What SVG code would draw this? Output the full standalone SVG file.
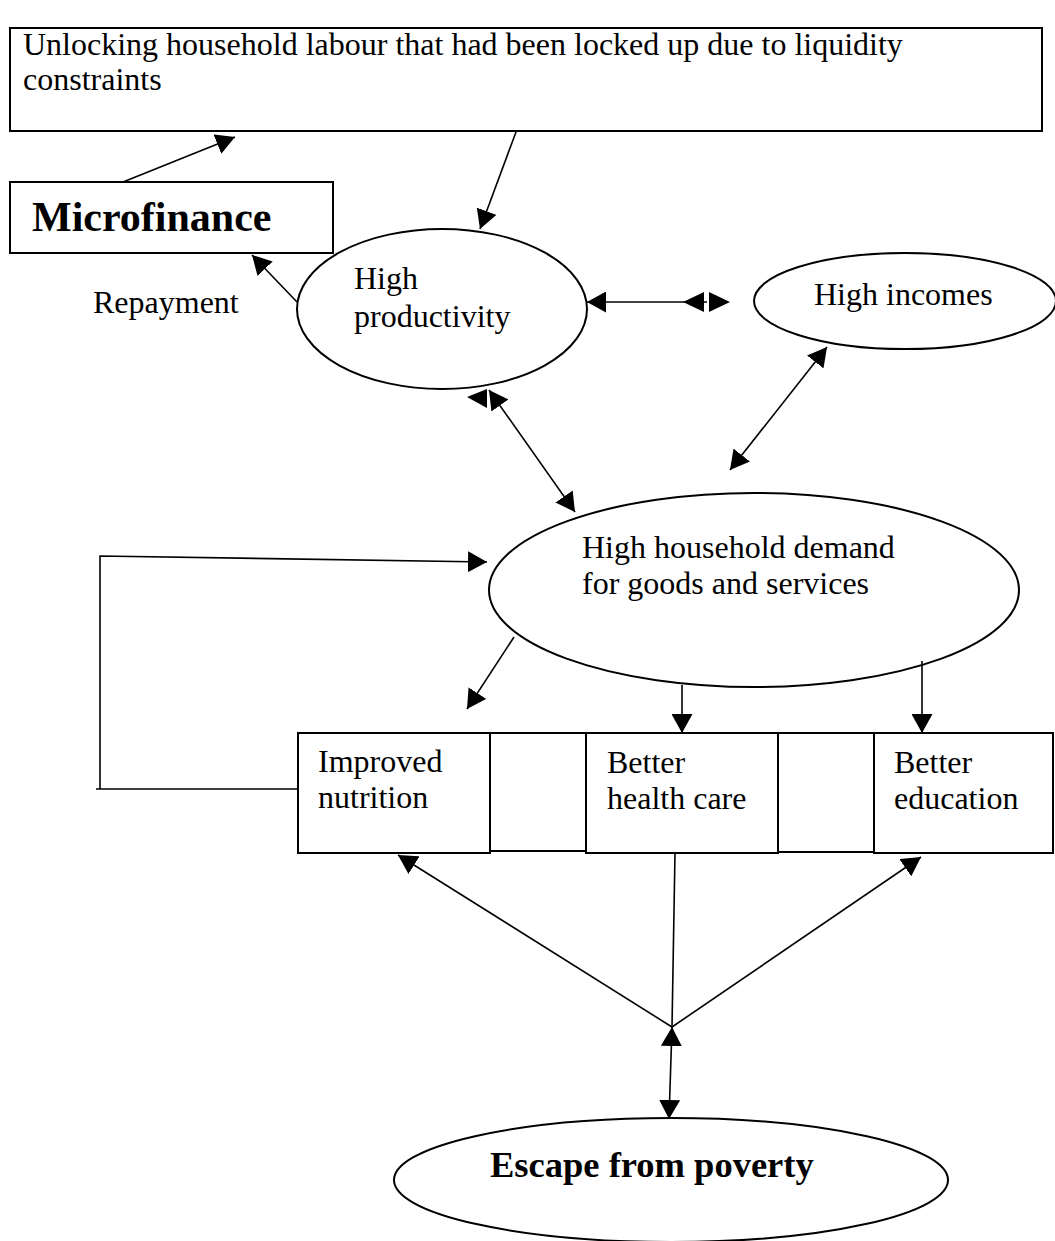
<svg xmlns="http://www.w3.org/2000/svg" width="1055" height="1241" viewBox="0 0 1055 1241">
<style>
  .box { fill: #ffffff; stroke: #000000; stroke-width: 2; }
  .t { font-family: "Liberation Serif", "Times New Roman", serif; font-size: 32px; fill: #000000; }
  .b { font-family: "Liberation Serif", "Times New Roman", serif; font-weight: bold; fill: #000000; }
  .c { fill: none; stroke: #000000; stroke-width: 1.6; }
  .ah { fill: #000000; stroke: none; }
</style>
<defs>
  <marker id="arr" viewBox="0 0 19 21" refX="19" refY="10.5" markerWidth="19" markerHeight="21" markerUnits="userSpaceOnUse" orient="auto-start-reverse">
    <path d="M0,0 L19,10.5 L0,21 z" fill="#000000"/>
  </marker>
</defs>
<rect width="1055" height="1241" fill="#ffffff"/>

<g id="unlocking">
  <rect class="box" x="10" y="28" width="1032" height="103"/>
  <text class="t" x="23" y="55">Unlocking household labour that had been locked up due to liquidity</text>
  <text class="t" x="23" y="90">constraints</text>
</g>

<g id="microfinance">
  <rect class="box" x="10" y="182" width="323" height="71"/>
  <text class="b" x="32" y="231" font-size="42">Microfinance</text>
</g>

<g id="repayment-label">
  <text class="t" x="93" y="313">Repayment</text>
</g>

<g id="high-productivity">
  <ellipse class="box" cx="442" cy="309" rx="145" ry="80"/>
  <text class="t" x="354" y="289">High</text>
  <text class="t" x="354" y="327">productivity</text>
</g>

<g id="high-incomes">
  <ellipse class="box" cx="905" cy="301" rx="151" ry="48"/>
  <text class="t" x="814" y="305">High incomes</text>
</g>

<g id="household-demand">
  <ellipse class="box" cx="754" cy="590" rx="265" ry="97"/>
  <text class="t" x="582" y="558">High household demand</text>
  <text class="t" x="582" y="594">for goods and services</text>
</g>

<g id="gap-boxes">
  <rect class="box" x="490" y="733" width="96" height="118"/>
  <rect class="box" x="778" y="733" width="96" height="119"/>
</g>

<g id="improved-nutrition">
  <rect class="box" x="298" y="733" width="192" height="120"/>
  <text class="t" x="318" y="772">Improved</text>
  <text class="t" x="318" y="808">nutrition</text>
</g>

<g id="better-health-care">
  <rect class="box" x="586" y="733" width="192" height="120"/>
  <text class="t" x="607" y="773">Better</text>
  <text class="t" x="607" y="809">health care</text>
</g>

<g id="better-education">
  <rect class="box" x="874" y="733" width="179" height="120"/>
  <text class="t" x="894" y="773">Better</text>
  <text class="t" x="894" y="809">education</text>
</g>

<g id="escape-from-poverty">
  <ellipse class="box" cx="671" cy="1180" rx="277" ry="62"/>
  <text class="b" x="490" y="1177" font-size="36.5">Escape from poverty</text>
</g>

<g id="connectors">
  <line class="c" x1="123" y1="182" x2="235" y2="137" marker-end="url(#arr)"/>
  <line class="c" x1="516" y1="132" x2="480" y2="229" marker-end="url(#arr)"/>
  <line class="c" x1="297" y1="302" x2="252" y2="255" marker-end="url(#arr)"/>

  <line class="c" x1="587" y1="302" x2="707" y2="302" marker-start="url(#arr)"/>
  <polygon class="ah" points="683,302 704,292 704,312"/>
  <polygon class="ah" points="709,292 730,302 709,312"/>

  <line class="c" x1="489" y1="390" x2="575" y2="512" marker-start="url(#arr)" marker-end="url(#arr)"/>
  <polygon class="ah" points="467,397 487,389 487,408"/>

  <line class="c" x1="827" y1="347" x2="730" y2="470" marker-start="url(#arr)" marker-end="url(#arr)"/>

  <path class="c" d="M298,789 L96,789 M100,789 L100,556 L487,562" marker-end="url(#arr)"/>

  <line class="c" x1="514" y1="637" x2="467" y2="709" marker-end="url(#arr)"/>
  <line class="c" x1="682" y1="685" x2="682" y2="733" marker-end="url(#arr)"/>
  <line class="c" x1="922" y1="661" x2="922" y2="733" marker-end="url(#arr)"/>

  <line class="c" x1="675" y1="853" x2="672" y2="1027"/>
  <line class="c" x1="672" y1="1027" x2="398" y2="855" marker-end="url(#arr)"/>
  <line class="c" x1="672" y1="1027" x2="921" y2="857" marker-end="url(#arr)"/>
  <line class="c" x1="672" y1="1027" x2="669" y2="1119" marker-start="url(#arr)" marker-end="url(#arr)"/>
</g>
</svg>
